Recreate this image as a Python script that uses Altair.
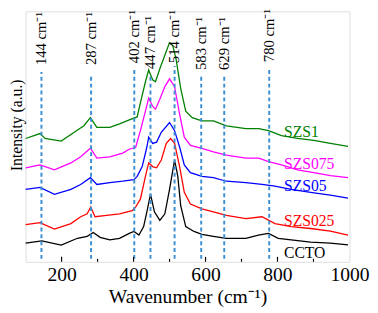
import altair as alt
import pandas as pd

# ---- spectra (wavenumber, intensity in arbitrary units) ----
cc_w = [100, 145, 199, 244, 271, 288, 307, 334, 361, 388, 401, 415, 428, 437, 447, 458, 473, 487, 500, 514, 523, 531, 545, 568, 590, 622, 658, 712, 747, 775, 802, 838, 892, 947, 996]
cc_v = [19, 21.3, 17, 24, 26, 30, 25, 22.3, 24, 29, 31, 27.3, 36, 51, 69, 51, 42.3, 49, 74, 104, 87.3, 57.3, 36, 31, 28, 26, 24, 24, 27.3, 29, 24, 22.3, 20, 19, 17.3]

s025_w = [100, 140, 180, 226, 253, 271, 281, 293, 325, 361, 396, 406, 419, 433, 442, 453, 464, 477, 491, 503, 514, 528, 541, 558, 590, 622, 658, 712, 757, 793, 838, 892, 947, 996]
s025_v = [38, 40, 33.3, 39, 46, 49, 56, 46, 47.3, 49, 52.3, 56, 64, 87.3, 101, 97.3, 96, 104, 121, 126, 121, 97.3, 71, 59, 54, 51, 47.3, 44, 46, 39, 36, 34, 31.3, 27.3]

s05_w = [100, 140, 180, 226, 253, 280, 298, 334, 370, 401, 410, 424, 437, 442, 453, 464, 477, 500, 514, 528, 541, 558, 590, 622, 658, 712, 757, 793, 838, 892, 947, 996]
s05_v = [74, 76, 69, 74, 79, 86, 79, 81, 82.3, 84, 87.3, 97.3, 117.3, 127.3, 121, 122.3, 132.3, 142.3, 134, 117.3, 99, 91, 87.3, 86, 82.3, 81, 79, 77.3, 74, 71, 68, 65]

s075_w = [100, 140, 180, 226, 253, 280, 298, 334, 370, 388, 406, 419, 433, 442, 453, 461, 473, 487, 500, 514, 528, 541, 558, 590, 622, 658, 712, 748, 775, 811, 856, 901, 947, 996]
s075_v = [96, 99, 94, 101, 107.3, 116, 106, 107.3, 111, 115, 117, 134, 154, 167.3, 159, 156, 166, 179, 187, 179, 151, 127.3, 119, 116, 112.3, 109, 106, 106, 102.3, 99, 94, 91, 88, 86]

s1_w = [100, 140, 154, 199, 235, 262, 280, 298, 334, 361, 388, 410, 419, 433, 442, 453, 461, 473, 487, 500, 509, 518, 531, 545, 563, 590, 622, 658, 712, 748, 775, 811, 856, 901, 947, 996]
s1_v = [126, 131, 126, 123.3, 132.3, 139, 147.3, 137.3, 137.3, 141, 145, 148, 162.3, 184, 196, 186, 184, 197.3, 211, 224, 221, 207.3, 177.3, 154, 147.3, 144, 144, 139, 136, 136, 134, 129, 126, 124, 121, 118]

series_names = ["CCTO", "SZS025", "SZS05", "SZS075", "SZS1"]
series_colors = ["#000000", "#ff0000", "#0000ff", "#ff00ff", "#008000"]
series_label_y = [9, 41.5, 77.5, 100, 132.5]

# ---- peak markers ----
peak_pos = [144, 282, 402, 447, 514, 588, 652, 777]
peak_text = ["144", "287", "402", "447", "514", "583", "629", "780"]
peak_line_top = [194, 189, 196, 192, 200, 192, 192, 198]
peak_label_y = [201, 201, 203, 197, 203, 196, 196, 204]

major_ticks = [200, 400, 600, 800]
minor_ticks = [300, 500, 700, 900]

SERIF = "Liberation Serif"

rows = []
for name, ws, vs in zip(series_names, [cc_w, s025_w, s05_w, s075_w, s1_w], [cc_v, s025_v, s05_v, s075_v, s1_v]):
    for w, v in zip(ws, vs):
        rows.append({"series": name, "w": w, "v": v})
spec = pd.DataFrame(rows)

xs = alt.Scale(domain=[100, 1000], nice=False, zero=False)
ys = alt.Scale(domain=[0, 256], nice=False, zero=False)
cs = alt.Scale(domain=series_names, range=series_colors)

x_axis = alt.Axis(values=[200, 400, 600, 800, 1000], format="d", domain=False, ticks=False, grid=False,
                  labelFont=SERIF, labelFontSize=20, labelColor="black", labelPadding=3,
                  labelFlush=False, title="Wavenumber (cm\u207b\u00b9)", titleFont=SERIF,
                  titleFontSize=20, titleFontWeight="normal", titleColor="black", titlePadding=3)
y_axis = alt.Axis(domain=False, ticks=False, labels=False, grid=False,
                  title="Intensity (a.u.)", titleFont=SERIF, titleFontSize=16,
                  titleFontWeight="normal", titleColor="black", titleAngle=270,
                  titleX=-1, titleY=116, titleAlign="center", titleBaseline="bottom")

lines = alt.Chart(spec).mark_line(strokeWidth=1.3).encode(
    x=alt.X("w:Q", scale=xs, axis=x_axis),
    y=alt.Y("v:Q", scale=ys, axis=y_axis),
    color=alt.Color("series:N", scale=cs, legend=None),
    detail="series:N",
)

peaks = pd.DataFrame({"pos": peak_pos, "top": peak_line_top, "bot": [3] * len(peak_pos),
                      "ly": peak_label_y, "txt": [t + " cm\u207b\u00b9" for t in peak_text]})

vrules = alt.Chart(peaks).mark_rule(color="#3d8fd4", strokeWidth=2, strokeDash=[4, 3]).encode(
    x=alt.X("pos:Q", scale=xs), y=alt.Y("bot:Q", scale=ys), y2="top:Q")

vtext = alt.Chart(peaks).mark_text(angle=270, align="left", baseline="middle", font=SERIF,
                                   fontSize=15, color="black").encode(
    x=alt.X("pos:Q", scale=xs), y=alt.Y("ly:Q", scale=ys), text="txt:N")

labels = pd.DataFrame({"series": series_names, "y": series_label_y, "x": [818] * 5})
stext = alt.Chart(labels).mark_text(align="left", baseline="middle", font=SERIF, fontSize=16).encode(
    x=alt.X("x:Q", scale=xs), y=alt.Y("y:Q", scale=ys), text="series:N",
    color=alt.Color("series:N", scale=cs, legend=None))

ticks = pd.DataFrame({"t": major_ticks + minor_ticks,
                      "len": [5] * len(major_ticks) + [3] * len(minor_ticks)})
tick_rules = alt.Chart(ticks).mark_rule(color="black", strokeWidth=1.2).encode(
    x=alt.X("t:Q", scale=xs), y=alt.Y("len:Q", scale=ys), y2=alt.datum(0))

chart = alt.layer(lines, vrules, vtext, stext, tick_rules).properties(
    width=331, height=256,
    autosize=alt.AutoSizeParams(type="none"),
    padding={"left": 18, "top": 0, "right": 21, "bottom": 49},
).configure_view(stroke="black", strokeWidth=1.5).configure(background="white")

chart.save("out.html", embed_options={"renderer": "svg", "actions": False})
